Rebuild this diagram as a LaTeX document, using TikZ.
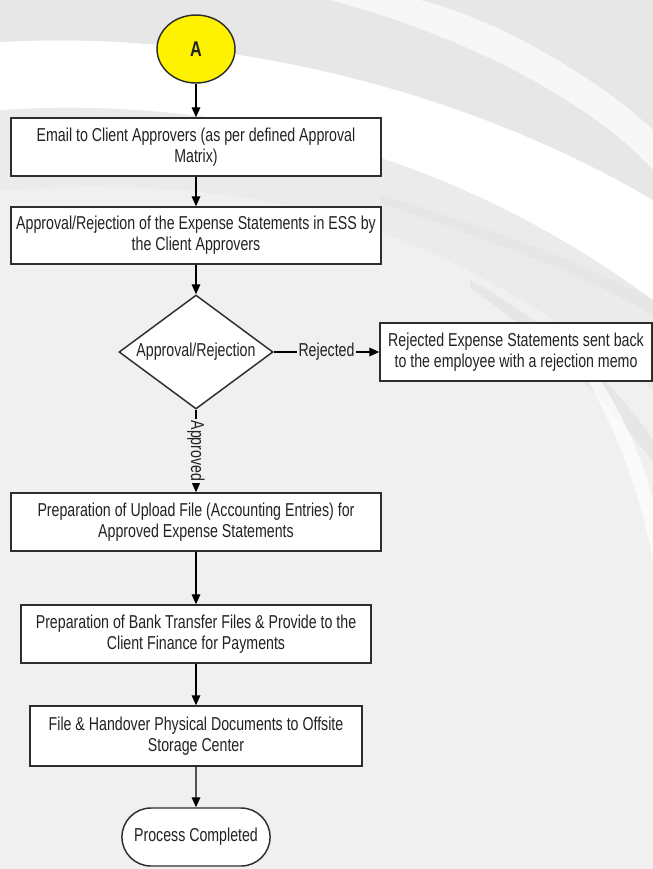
\documentclass[tikz,border=0pt]{standalone}
\usepackage{fontspec}
\setmainfont{Liberation Sans}[FakeStretch=0.76]
\usetikzlibrary{shapes.geometric,shapes.misc,arrows.meta}
\definecolor{bgbase}{HTML}{F0F0F0}
\definecolor{bgdark}{HTML}{E7E7E7}
\definecolor{bgmid}{HTML}{EBEBEB}
\definecolor{bgstreak}{HTML}{E6E6E6}
\definecolor{boxline}{HTML}{2E2E2E}
\definecolor{ink}{HTML}{222222}
\definecolor{startfill}{HTML}{FFF200}
\begin{document}
\begin{tikzpicture}[x=0.75pt,y=-0.75pt,
  every node/.style={text=ink, font=\fontsize{14}{15.75}\selectfont},
  stepbox/.style={draw=boxline, line width=1.1pt, fill=white, align=center,
    inner sep=2pt, minimum height=43.5pt},
  decision/.style={diamond, draw=boxline, line width=1.1pt, fill=white,
    inner sep=0pt, minimum width=115.5pt, minimum height=85.5pt, aspect=1.35},
  terminal/.style={rounded rectangle, draw=boxline, line width=1.1pt, fill=white,
    minimum width=117.75pt, minimum height=43.5pt},
  connector/.style={draw=black, line width=0.9pt,
    -{Triangle[length=7.5pt,width=6.5pt]}},
  edgelabel/.style={fill=bgbase, inner sep=1pt, midway},
]
% ---- backdrop: light grey sheet with white swooshes ----
\fill[bgbase] (0,0) rectangle (653,869);
\fill[bgmid] (0,110) .. controls (220,95) and (450,150) .. (653,300)
  -- (653,390) .. controls (420,210) and (250,175) .. (0,190) -- cycle;
\fill[white] (0,42) .. controls (200,30) and (450,80) .. (653,200)
  -- (653,300) .. controls (450,150) and (220,95) .. (0,110) -- cycle;
\fill[bgdark] (0,0) -- (653,0) -- (653,200)
  .. controls (450,80) and (200,30) .. (0,42) -- cycle;
\fill[white, opacity=0.7] (330,0) .. controls (480,40) and (600,110) .. (653,170)
  -- (653,130) .. controls (600,80) and (500,20) .. (420,0) -- cycle;
\fill[bgstreak] (380,195) .. controls (480,225) and (580,260) .. (653,300)
  -- (653,315) .. controls (580,272) and (480,237) .. (380,203) -- cycle;
\fill[bgstreak] (470,280) .. controls (560,330) and (620,390) .. (653,440)
  -- (653,462) .. controls (610,405) and (550,342) .. (470,288) -- cycle;
\fill[white, opacity=0.7] (560,330) .. controls (610,380) and (640,450) .. (653,500)
  -- (653,560) .. controls (635,470) and (600,390) .. (560,340) -- cycle;

% ---- flow ----
\node[ellipse, draw=boxline, line width=1.1pt, fill=startfill,
  minimum width=58.5pt, minimum height=51pt,
  font=\bfseries\fontsize{16}{18}\selectfont] (start) at (196,49) {A};
\node[stepbox, minimum width=277.5pt] (email) at (196,147)
  {Email to Client Approvers (as per defined Approval\\Matrix)};
\node[stepbox, minimum width=277.5pt, minimum height=42.75pt] (approve) at (196,235.5)
  {Approval/Rejection of the Expense Statements in ESS by\\the Client Approvers};
\node[decision] (check) at (196,352) {Approval/Rejection};
\node[stepbox, minimum width=204pt] (reject) at (516,352)
  {Rejected Expense Statements sent back\\to the employee with a rejection memo};
\node[stepbox, minimum width=277.5pt] (upload) at (196,522)
  {Preparation of Upload File (Accounting Entries) for\\Approved Expense Statements};
\node[stepbox, minimum width=262.5pt] (bank) at (196,634)
  {Preparation of Bank Transfer Files \& Provide to the\\Client Finance for Payments};
\node[stepbox, minimum width=249pt, minimum height=45pt] (archive) at (196,736)
  {File \& Handover Physical Documents to Offsite\\Storage Center};
\node[terminal] (done) at (196,837) {Process Completed};

\draw[connector] (start) -- (email);
\draw[connector] (email) -- (approve);
\draw[connector] (approve) -- (check);
\draw[connector] (check) -- node[edgelabel] {Rejected} (reject);
\draw[connector] (check) -- node[edgelabel, rotate=-90] {Approved} (upload);
\draw[connector] (upload) -- (bank);
\draw[connector] (bank) -- (archive);
\draw[connector] (archive) -- (done);
\end{tikzpicture}
\end{document}
